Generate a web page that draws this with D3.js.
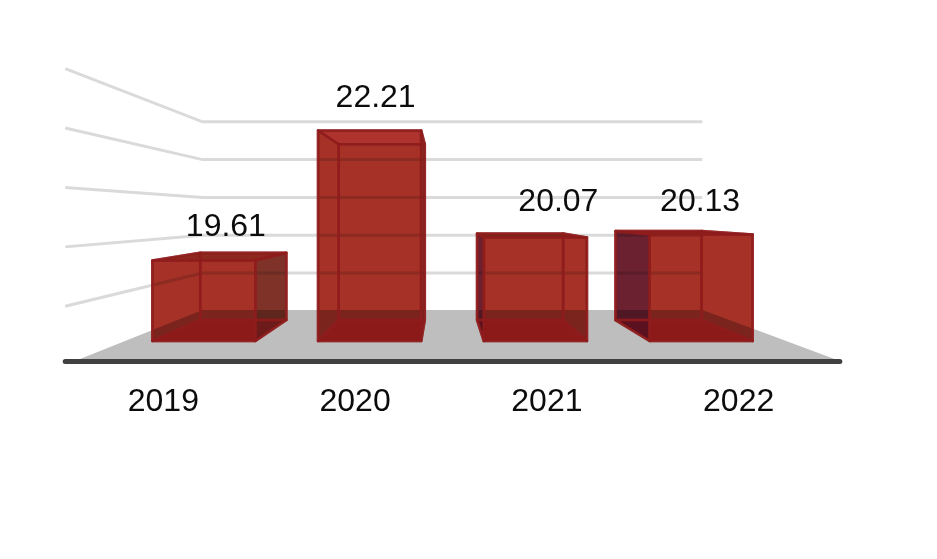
<!DOCTYPE html>
<html><head><meta charset="utf-8">
<script src="https://cdn.jsdelivr.net/npm/d3@7"></script>
<style>html,body{margin:0;padding:0;background:#fff}svg{display:block}text{font-family:"Liberation Sans",Arial,sans-serif;font-size:32px;fill:#0c0c0c}</style>
</head><body><svg id="c" width="937" height="559"></svg>
<script>
const categories = ["2019","2020","2021","2022"];
const values = [19.61,22.21,20.07,20.13];
const gridValues = [19,20,21,22,23];
const labelDx = [22,6,23,-1];
const labelDy = [25,24,27,24];

const W=937,H=559, vx=443, vy=214;
const depth={near:1.188, axis:1.157, front:1, back:.835, wall:.756};
const x=d3.scaleBand().domain(categories).range([121,784]).paddingInner(.378).paddingOuter(.189);
const y=d3.scaleLinear().domain([18,23]).range([341,91]);
const wallX=d3.scaleLinear().domain([0,1]).range([125,786]);
const P=(xw,yw,s)=>[vx+(xw-vx)*s, vy+(yw-vy)*s];
const svg=d3.select("#c");
const line=d3.line();
const poly=pts=>line(pts)+"Z";

// floor
svg.append("path").attr("d",poly([
  P(wallX(0),y(18),depth.wall),P(wallX(1),y(18),depth.wall),
  P(wallX(1),y(18),depth.axis),P(wallX(0),y(18),depth.axis)])).attr("fill","#bebebe");
// gridlines
const g=svg.append("g").attr("fill","none").attr("stroke","#dadada").attr("stroke-width",3).attr("transform","translate(0,0.8)");
gridValues.forEach(v=>{
  g.append("path").attr("d",line([P(wallX(0),y(v),depth.near),P(wallX(0),y(v),depth.wall),P(wallX(1),y(v),depth.wall)]));
});
// axis baseline
const base=P(0,y(18),depth.axis)[1]+.5;
svg.append("line").attr("x1",P(wallX(0),0,depth.near)[0]).attr("x2",P(wallX(1),0,depth.axis)[0])
  .attr("y1",base).attr("y2",base).attr("stroke","#404040").attr("stroke-width",5).attr("stroke-linecap","round");

const col={front:"rgb(205,111,99)",back:"rgb(205,111,99)",inner:"rgb(205,111,99)",
  outerR:"rgb(158,117,103)",outerL:"rgb(133,74,124)",topIn:"rgb(217,115,116)",topOut:"rgb(174,92,77)",bottom:"rgb(234,77,86)"};
const edge="#8f1c1c";

categories.forEach((c,i)=>{
  const x0=x(c),x1=x0+x.bandwidth(),yt=y(values[i]),yb=y(18);
  const f=(xx,yy)=>P(xx,yy,depth.front), b=(xx,yy)=>P(xx,yy,depth.back);
  const cx=(x0+x1)/2;
  const rightOuter=x1<vx, leftOuter=x0>vx;
  const faces=[
    {p:[b(x0,yt),b(x1,yt),b(x1,yb),b(x0,yb)],c:col.back},
    {p:[b(x0,yb),b(x1,yb),f(x1,yb),f(x0,yb)],c:col.bottom},
    {p:[b(x0,yt),b(x0,yb),f(x0,yb),f(x0,yt)],c:leftOuter?col.outerL:col.inner},
    {p:[b(x1,yt),b(x1,yb),f(x1,yb),f(x1,yt)],c:rightOuter?col.outerR:col.inner},
    {p:[b(x0,yt),b(x1,yt),f(x1,yt),f(x0,yt)],c:yt>vy?col.topOut:col.topIn},
    {p:[f(x0,yt),f(x1,yt),f(x1,yb),f(x0,yb)],c:col.front}
  ];
  const bar=svg.append("g").attr("class","bar");
  bar.selectAll("path.face").data(faces).join("path").attr("class","face")
    .attr("d",d=>poly(d.p)).attr("fill",d=>d.c).style("mix-blend-mode","multiply");
  bar.selectAll("path.edge").data(faces).join("path").attr("class","edge")
    .attr("d",d=>poly(d.p)).attr("fill","none").attr("stroke",edge).attr("stroke-width",2.6)
    .attr("stroke-opacity",.75).attr("stroke-linejoin","round");
  // value label
  svg.append("text").attr("x",cx+labelDx[i]).attr("y",yt-labelDy[i]).attr("text-anchor","middle").text(values[i].toFixed(2));
  // category label
  svg.append("text").attr("x",P(cx,0,depth.axis)[0]-3).attr("y",base+49.5).attr("text-anchor","middle").text(c);
});
</script></body></html>
